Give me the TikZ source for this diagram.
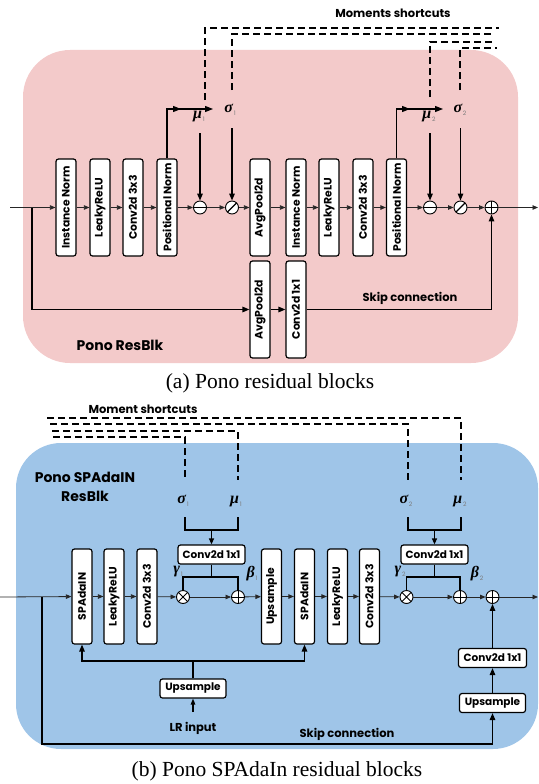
\documentclass[tikz,border=0pt]{standalone}
\usepackage{fontspec}
\setmainfont{Poppins}
\newfontfamily\capfont{Liberation Serif}
\usetikzlibrary{arrows.meta}
\definecolor{resblkbg}{HTML}{F3CACA}
\definecolor{spadabg}{HTML}{9FC5E8}
\definecolor{subgray}{HTML}{7A7A7A}
% bold italic moment symbol with a small grey index
\newcommand\msym[2]{{\capfont\fontsize{16}{16}\selectfont\bfseries\itshape #1}\kern0.8pt\raisebox{-3pt}{\fontsize{6}{6}\selectfont\color{subgray}#2}}
\begin{document}
\begin{tikzpicture}[x=1pt,y=-1pt,
  vbox/.style={draw, line width=1.2pt, fill=white, rounded corners=2.5pt,
    minimum width=20pt, minimum height=97pt, inner sep=0pt,
    font=\fontsize{10.8}{11}\selectfont\bfseries},
  hbox/.style={draw, line width=1.2pt, fill=white, rounded corners=2.5pt,
    minimum width=67pt, minimum height=19pt, inner sep=0pt,
    font=\fontsize{10.5}{11}\selectfont\bfseries},
  op/.style={circle, draw, line width=0.9pt, fill=white, minimum size=13pt, inner sep=0pt},
  opminus/.style={op, path picture={\draw[line width=0.9pt]
    (path picture bounding box.west) -- (path picture bounding box.east);}},
  opdiv/.style={op, path picture={\draw[line width=1.1pt]
    (path picture bounding box.south west) -- (path picture bounding box.north east);}},
  opplus/.style={op, path picture={\draw[line width=0.9pt]
    (path picture bounding box.west) -- (path picture bounding box.east)
    (path picture bounding box.north) -- (path picture bounding box.south);}},
  optimes/.style={op, path picture={\draw[line width=0.9pt]
    (path picture bounding box.south west) -- (path picture bounding box.north east)
    (path picture bounding box.north west) -- (path picture bounding box.south east);}},
  flow/.style={line width=0.8pt, draw=black!85, -{Triangle[length=5.5pt,width=4.5pt]}},
  thk/.style={line width=1.3pt, -{Triangle[length=7pt,width=5.5pt]}},
  tap/.style={line width=1.2pt, -{Triangle[length=8pt,width=6pt]}},
  plain/.style={line width=1.3pt},
  shortcut/.style={line width=1.1pt, dash pattern=on 7pt off 4pt},
  lbl/.style={font=\fontsize{11.5}{12}\selectfont\bfseries},
  title/.style={font=\fontsize{14}{19}\selectfont\bfseries, align=center},
  caption/.style={font=\capfont\fontsize{21.5}{24}\selectfont}
]
\useasboundingbox (0,0) rectangle (538,784);

% ---------------- (a) Pono ResBlk ----------------
\fill[resblkbg, rounded corners=47pt] (23,50) rectangle (518,363);

\draw[shortcut] (205,100) -- (205,28) -- (499,28);
\draw[shortcut] (232,90) -- (232,34) -- (492,34);
\draw[shortcut] (430,97) -- (430,42) -- (495,42);
\draw[shortcut] (460,90) -- (460,48) -- (497,48);
\node[lbl] (mslabA) at (393,13) {Moments shortcuts};

\coordinate (ain) at (10,207.5);
\coordinate (abr) at (32,207.5);
\node[vbox] (in1) at (66,207.5) {\rotatebox{90}{Instance Norm}};
\node[vbox] (lr1) at (100,207.5) {\rotatebox{90}{LeakyReLU}};
\node[vbox] (cv1) at (133,207.5) {\rotatebox{90}{Conv2d 3x3}};
\node[vbox] (pn1) at (167,207.5) {\rotatebox{90}{Positional Norm}};
\node[opminus] (sub1) at (200,207.5) {};
\node[opdiv] (div1) at (232,207.5) {};
\node[vbox] (ap1) at (260,207.5) {\rotatebox{90}{AvgPool2d}};
\node[vbox] (in2) at (296,207.5) {\rotatebox{90}{Instance Norm}};
\node[vbox] (lr2) at (329,207.5) {\rotatebox{90}{LeakyReLU}};
\node[vbox] (cv2) at (363,207.5) {\rotatebox{90}{Conv2d 3x3}};
\node[vbox] (pn2) at (396.5,207.5) {\rotatebox{90}{Positional Norm}};
\node[opminus] (sub2) at (430,207.5) {};
\node[opdiv] (div2) at (460.5,207.5) {};
\node[opplus] (addA) at (491.5,207.5) {};
\coordinate (aout) at (538,207.5);

\node[vbox] (ap2) at (260,309.5) {\rotatebox{90}{AvgPool2d}};
\node[vbox] (cx1) at (296,309.5) {\rotatebox{90}{Conv2d 1x1}};

\draw[flow] (ain) -- (in1);
\foreach \a/\b in {in1/lr1, lr1/cv1, cv1/pn1, pn1/sub1, sub1/div1, div1/ap1,
                   ap1/in2, in2/lr2, lr2/cv2, cv2/pn2, pn2/sub2, sub2/div2, div2/addA}
  \draw[flow] (\a) -- (\b);
\draw[flow] (addA) -- (aout);

% skip path
\draw[thk] (abr) |- (ap2);
\draw[thk] (ap2) -- (cx1);
\draw[thk] (cx1) -| (addA);
\node[lbl] (skipA) at (410,298) {Skip connection};

% moment taps
\coordinate (t1) at (167,109); \coordinate (t1m) at (181,109); \coordinate (t1e) at (213,109);
\draw[tap] (pn1) -- (t1) -- (t1e);
\draw[tap] (t1) -- (t1m);
\coordinate (t2) at (396.5,109); \coordinate (t2m) at (410,109); \coordinate (t2e) at (443,109);
\draw[tap] (pn2) -- (t2) -- (t2e);
\draw[tap] (t2) -- (t2m);

\node (muA1) at (199,117) {\msym{μ}{1}};
\node (sgA1) at (230,110) {\msym{σ}{1}};
\node (muA2) at (429,117) {\msym{μ}{2}};
\node (sgA2) at (460,110) {\msym{σ}{2}};

\coordinate (m1a) at (200,133);   \draw[thk] (m1a) -- (sub1);
\coordinate (s1a) at (232,128);   \draw[thk] (s1a) -- (div1);
\coordinate (m2a) at (430,133);   \draw[thk] (m2a) -- (sub2);
\coordinate (s2a) at (460.5,128); \draw[thk] (s2a) -- (div2);

\node[title] (ttlA) at (120,345) {Pono ResBlk};
\node[caption] (capA) at (270,383) {(a) Pono residual blocks};

% ---------------- (b) Pono SPAdaIN ResBlk ----------------
\fill[spadabg, rounded corners=45pt] (16,443) rectangle (538,749);

\draw[shortcut] (47,418) -- (461,418) -- (461,480);
\draw[shortcut] (50,424) -- (408,424) -- (408,480);
\draw[shortcut] (52,431) -- (238,431) -- (238,480);
\draw[shortcut] (53,437) -- (185,437) -- (185,480);
\node[lbl] (mslabB) at (143,409) {Moment shortcuts};

\node[title] (ttlB) at (85,487) {Pono SPAdaIN\\ResBlk};

\coordinate (bin) at (0,597);
\coordinate (bbr) at (42,597);
\node[vbox, minimum height=95pt] (sp1) at (82,596.5) {\rotatebox{90}{SPAdaIN}};
\node[vbox, minimum height=95pt] (lk1) at (114,596.5) {\rotatebox{90}{LeakyReLU}};
\node[vbox, minimum height=95pt] (cb1) at (147,596.5) {\rotatebox{90}{Conv2d 3x3}};
\node[optimes] (mul1) at (183,597) {};
\node[opplus] (adb1) at (238,597) {};
\node[vbox, minimum height=95pt] (up1) at (271.5,596.5) {\rotatebox{90}{Upsample}};
\node[vbox, minimum height=95pt] (sp2) at (304.5,596.5) {\rotatebox{90}{SPAdaIN}};
\node[vbox, minimum height=95pt] (lk2) at (337.5,596.5) {\rotatebox{90}{LeakyReLU}};
\node[vbox, minimum height=95pt] (cb2) at (369.5,596.5) {\rotatebox{90}{Conv2d 3x3}};
\node[optimes] (mul2) at (406.5,597) {};
\node[opplus] (adb2) at (460,597) {};
\node[opplus] (addB) at (492.5,597) {};
\coordinate (bout) at (538,597);

\draw[flow] (bin) -- (sp1);
\foreach \a/\b in {sp1/lk1, lk1/cb1, cb1/mul1, mul1/adb1, adb1/up1, up1/sp2,
                   sp2/lk2, lk2/cb2, cb2/mul2, mul2/adb2, adb2/addB}
  \draw[flow] (\a) -- (\b);
\draw[flow] (addB) -- (bout);

% moment conditioning
\node (sgB1) at (183,501) {\msym{σ}{1}};
\node (muB1) at (236,502) {\msym{μ}{1}};
\node (sgB2) at (406,501) {\msym{σ}{2}};
\node (muB2) at (460,502) {\msym{μ}{2}};

\node[hbox] (cxb1) at (211.5,554.5) {Conv2d 1x1};
\node[hbox] (cxb2) at (434.5,554.5) {Conv2d 1x1};

\draw[plain] (185,517) -- (185,530) -- (238,530) -- (238,517);
\coordinate (j1) at (211.5,530); \draw[thk, -{Triangle[length=6pt,width=5pt]}] (j1) -- (cxb1);
\draw[plain] (408,517) -- (408,530) -- (461,530) -- (461,517);
\coordinate (j2) at (434.5,530); \draw[thk, -{Triangle[length=6pt,width=5pt]}] (j2) -- (cxb2);

\coordinate (g1) at (211.5,577);
\draw[plain] (cxb1) -- (g1);
\draw[plain] (mul1) -- (mul1 |- g1) -| (adb1);
\coordinate (g2) at (434.5,577);
\draw[plain] (cxb2) -- (g2);
\draw[plain] (mul2) -- (mul2 |- g2) -| (adb2);

\node (gmB1) at (178,572) {\msym{γ}{1}};
\node (btB1) at (252,574) {\msym{β}{1}};
\node (gmB2) at (400,572) {\msym{γ}{2}};
\node (btB2) at (477,574) {\msym{β}{2}};

% LR conditioning branch
\node[hbox, minimum width=66pt] (ups) at (193,688.5) {Upsample};
\coordinate (bus) at (193,661);
\draw[plain] (ups) -- (bus);
\draw[thk, {Triangle[length=7pt,width=5.5pt]}-{Triangle[length=7pt,width=5.5pt]}]
  (sp1) -- (sp1 |- bus) -- (sp2 |- bus) -- (sp2);
\node[lbl] (lrin) at (193,728) {LR input};
\coordinate (lra) at (193,712);
\draw[thk, -{Triangle[length=6pt,width=4.5pt]}] (lra) -- (ups);

% skip path
\node[hbox, minimum width=66pt] (upr) at (492.5,703) {Upsample};
\node[hbox, minimum width=68pt] (cvr) at (492.5,658) {Conv2d 1x1};
\coordinate (skc) at (42,744);
\draw[thk] (bbr) -- (skc) -| (upr);
\draw[thk] (upr) -- (cvr);
\draw[thk] (cvr) -- (addB);
\node[lbl] (skipB) at (347,734) {Skip connection};

\node[caption] (capB) at (277,771) {(b) Pono SPAdaIn residual blocks};
\end{tikzpicture}
\end{document}
